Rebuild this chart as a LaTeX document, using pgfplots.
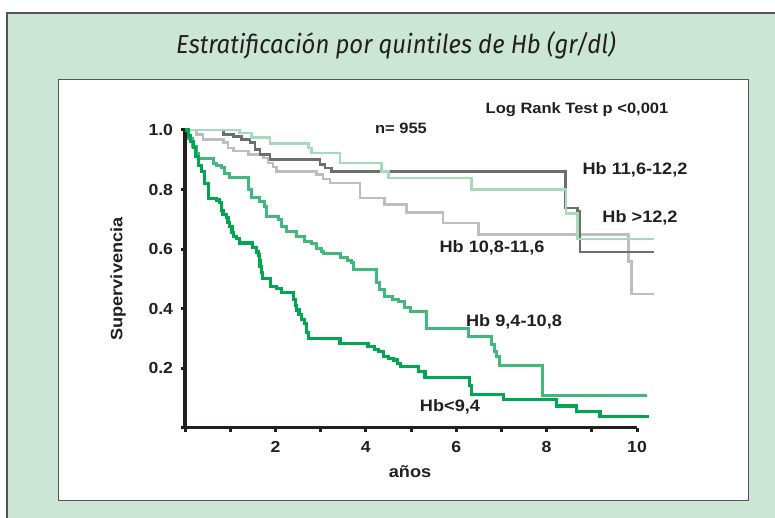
\documentclass[border=0pt]{standalone}
\usepackage{fontspec}
\setmainfont{Liberation Sans}[FakeStretch=1.1]
\newfontfamily\titlefont{Fira Sans}
\usepackage{graphicx}
\usepackage{pgfplots}
\pgfplotsset{compat=1.18}

\definecolor{bggreen}{HTML}{CCE6D6}
\definecolor{framegray}{HTML}{555555}
\definecolor{axisblack}{HTML}{231F20}
\definecolor{hbdark}{HTML}{6D6E70}
\definecolor{hblgray}{HTML}{BCBEC0}
\definecolor{hblgreen}{HTML}{A6DBB8}
\definecolor{hbmgreen}{HTML}{40B97A}
\definecolor{hbsgreen}{HTML}{00A650}

\begin{document}
\begin{tikzpicture}[x=1pt,y=1pt]
\useasboundingbox (0,0) rectangle (775,517);
% panel background
\fill[bggreen] (7,-20) rectangle (800,504);
\draw[framegray, line width=1.2pt] (7,-20) -- (7,504) -- (800,504);
\fill[white] (58,17) rectangle (748,437);
\draw[framegray, line width=1pt] (58,17) rectangle (748,437);
\node[text=axisblack] at (396,472)
  {\scalebox{0.92}[1]{\titlefont\itshape\fontsize{26}{26}\selectfont Estratificación por quintiles de Hb (gr/dl)}};

\begin{axis}[
  at={(185pt,89.5pt)}, anchor=south west,
  scale only axis, width=452pt, height=297.5pt,
  xmin=0, xmax=10, ymin=0, ymax=1,
  axis x line=bottom, axis y line=left,
  axis line style={-, line width=3.5pt, axisblack},
  every outer x axis line/.append style={line width=3.5pt},
  every outer y axis line/.append style={line width=3.5pt},
  every tick/.style={line width=3pt, axisblack},
  tick align=outside, major tick length=4.5pt,
  xtick={0,1,...,10}, xticklabels={,,2,,4,,6,,8,,10},
  ytick={0,0.2,0.4,0.6,0.8,1.0}, yticklabels={,0.2,0.4,0.6,0.8,1.0},
  tick label style={font=\bfseries\fontsize{16}{16}\selectfont, text=axisblack},
  yticklabel style={xshift=-4pt},
  xticklabel style={yshift=-6pt},
  clip=false,
  const plot,
  every axis plot/.append style={line width=2.6pt, no markers},
]
% Hb 10,8-11,6
\addplot[hblgray] coordinates {
  (0,1.0) (0.26,0.985) (0.40,0.968) (0.85,0.957) (0.95,0.94) (1.07,0.929)
  (1.40,0.918) (1.73,0.906) (1.84,0.889) (1.95,0.875) (2.03,0.861)
  (2.91,0.85) (3.05,0.835) (3.21,0.822) (3.87,0.772) (4.42,0.749)
  (4.90,0.723) (5.71,0.687) (6.49,0.648) (9.81,0.558) (9.88,0.449) (10.38,0.449)
};
% Hb 11,6-12,2
\addplot[hbdark] coordinates {
  (0,1.0) (0.85,0.985) (1.07,0.979) (1.25,0.968) (1.44,0.957) (1.55,0.934)
  (1.66,0.918) (1.88,0.90) (2.99,0.884) (3.10,0.872) (3.24,0.861)
  (8.42,0.738) (8.69,0.727) (8.74,0.59) (10.38,0.59)
};
% Hb >12,2
\addplot[hblgreen] coordinates {
  (0,1.0) (1.21,0.99) (1.47,0.974) (1.88,0.955) (2.73,0.94) (2.80,0.923)
  (3.43,0.889) (4.35,0.86) (4.50,0.838) (6.34,0.80) (8.43,0.719)
  (8.69,0.634) (10.38,0.634)
};
% Hb 9,4-10,8
\addplot[hbmgreen, line width=3pt] coordinates {
  (0,1.0) (0.08,0.97) (0.16,0.945) (0.25,0.92) (0.30,0.905) (0.62,0.889)
  (0.70,0.88) (0.81,0.873) (0.88,0.855) (0.99,0.839) (1.40,0.80) (1.48,0.772)
  (1.65,0.76) (1.76,0.743) (1.80,0.71) (2.06,0.699) (2.13,0.676) (2.24,0.659)
  (2.46,0.643) (2.64,0.626) (2.80,0.62) (2.91,0.603) (3.02,0.593) (3.06,0.584)
  (3.43,0.57) (3.60,0.56) (3.68,0.553) (3.72,0.53) (4.24,0.486) (4.31,0.463)
  (4.42,0.44) (4.60,0.43) (4.72,0.424) (4.85,0.405) (4.98,0.39) (5.35,0.334)
  (6.27,0.306) (6.79,0.278) (6.85,0.255) (6.90,0.238) (6.96,0.207)
  (7.92,0.109) (10.22,0.109)
};
% Hb<9,4
\addplot[hbsgreen, line width=3.2pt] coordinates {
  (0,1.0) (0.07,0.98) (0.12,0.96) (0.18,0.94) (0.24,0.91) (0.30,0.88)
  (0.37,0.86) (0.44,0.82) (0.52,0.77) (0.70,0.765) (0.77,0.755) (0.80,0.73)
  (0.84,0.715) (0.91,0.705) (0.95,0.69) (0.99,0.675) (1.04,0.655) (1.07,0.643)
  (1.14,0.635) (1.21,0.62) (1.50,0.605) (1.58,0.59) (1.62,0.58) (1.64,0.56)
  (1.66,0.54) (1.69,0.52) (1.72,0.50) (1.90,0.475) (2.02,0.468) (2.13,0.455)
  (2.40,0.43) (2.44,0.41) (2.47,0.395) (2.52,0.38) (2.57,0.362) (2.64,0.35)
  (2.68,0.32) (2.73,0.30) (3.43,0.283) (4.05,0.272) (4.20,0.262) (4.28,0.255)
  (4.39,0.238) (4.50,0.232) (4.61,0.227) (4.70,0.215) (4.76,0.205) (5.16,0.188)
  (5.31,0.168) (6.30,0.14) (6.34,0.112) (7.04,0.095) (8.22,0.072) (8.66,0.053)
  (9.18,0.036) (10.27,0.036)
};
\end{axis}

\begin{scope}[every node/.style={text=axisblack, font=\bfseries\fontsize{16.5}{16.5}\selectfont}]
\node[rotate=90] at (118,238) {Supervivencia};
\node at (410,45) {años};
\node[font=\bfseries\fontsize{15}{15}\selectfont] at (401,389) {n= 955};
\node[font=\bfseries\fontsize{15}{15}\selectfont] at (577,407) {Log Rank Test p <0,001};
\node at (635,347) {Hb 11,6-12,2};
\node at (640,299) {Hb >12,2};
\node at (492,269) {Hb 10,8-11,6};
\node at (514,195) {Hb 9,4-10,8};
\node at (450,110) {Hb<9,4};
\end{scope}
\end{tikzpicture}
\end{document}
